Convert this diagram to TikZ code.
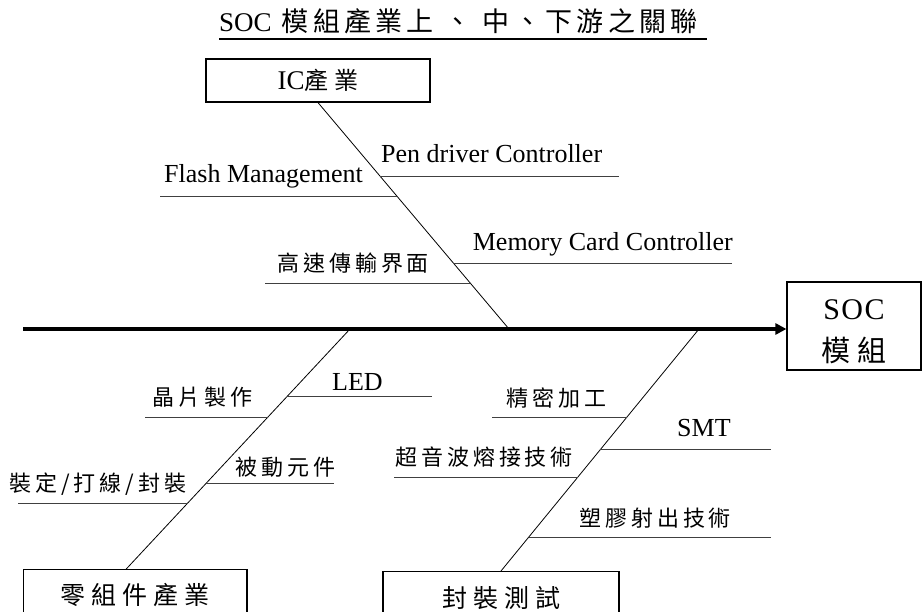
\documentclass[tikz,border=0pt]{standalone}
\usepackage{fontspec}
\setmainfont{Liberation Serif}
\newfontfamily\cjk[LetterSpace=18]{Noto Sans CJK TC}
\newfontfamily\cjkbox[LetterSpace=24]{Noto Sans CJK TC}
\newfontfamily\cjktitre[LetterSpace=16]{Noto Sans CJK TC}
\usepackage{tikz}
\usetikzlibrary{arrows.meta}
\tikzset{
Boite/.style={
 draw=black, 
 line width=1.2pt, 
 inner sep=0pt, 
 align=center
 },
Arete/.style={
 draw=black, 
 line width=0.8pt
 },
Epine/.style={
 draw=black, 
 line width=4.5pt, 
 -{Triangle[length=11pt,width=11pt]}
 },
Branche/.style={
 draw=black!75, 
 line width=1pt
 },
Latin/.style={
 anchor=base west, 
 inner sep=0pt, 
 font=\fontsize{26}{28}\selectfont
 },
Chinois/.style={
 anchor=base west, 
 inner sep=0pt, 
 font=\fontsize{22}{24}\selectfont\cjk
 }
}

\begin{document}
\begin{tikzpicture}[x=1pt,y=-1pt]
\useasboundingbox (0,0) rectangle (922,612);
% titre
\node[anchor=base west, inner sep=0pt, font=\fontsize{27}{30}\selectfont] (titre) at (219,32)
 {SOC\hspace{10pt}{\cjktitre\fontsize{27}{30}\selectfont 模組產業上\hspace{11pt}、\hspace{11pt}中、下游之關\hspace{4pt}聯}};
\draw[line width=2pt] ([yshift=-7pt]titre.base west) -- ++(488,0);
% boites
\node[Boite, minimum width=224pt, minimum height=43pt, font=\fontsize{27}{30}\selectfont] (ic) at (318,80.5)
 {IC{\cjkbox\fontsize{24}{28}\selectfont 產業}};
\node[Boite, minimum width=134pt, minimum height=88pt, font=\fontsize{30}{42}\selectfont] (soc) at (854,326)
 {\rule{0pt}{31.5pt}{\addfontfeature{LetterSpace=5}SOC}\\{\cjkbox\fontsize{29}{42}\selectfont 模組}};
\node[Boite, anchor=north, minimum width=223.5pt, minimum height=50pt, font=\fontsize{25}{28}\selectfont\cjkbox] (comp) at (135.25,569)
 {零組件產業};
\node[Boite, anchor=north, minimum width=236pt, minimum height=52pt, font=\fontsize{25}{28}\selectfont\cjkbox] (test) at (501,571)
 {封裝測試};
% epine
\coordinate (s0) at (23,329);
\coordinate (s1) at (509,329);
\coordinate (s2) at (350,329);
\coordinate (s3) at (699,329);
\draw[Epine] (s0) -- (s0 -| soc.west);
% aretes
\draw[Arete] (ic.south) -- (s1) coordinate[pos=.326] (a1) coordinate[pos=.414] (a2)
 coordinate[pos=.709] (a3) coordinate[pos=.797] (a4);
\draw[Arete] (s2) -- ([xshift=-9pt]comp.north) coordinate[pos=.283] (b1) coordinate[pos=.367] (b2)
 coordinate[pos=.642] (b3) coordinate[pos=.725] (b4);
\draw[Arete] (s3) -- (test.north) coordinate[pos=.364] (c1) coordinate[pos=.5] (c2)
 coordinate[pos=.612] (c3) coordinate[pos=.86] (c4);
% branches
\draw[Branche] (a1) -- ++(239,0);
\draw[Branche] (a2) -- ++(-237,0);
\draw[Branche] (a3) -- ++(279,0);
\draw[Branche] (a4) -- ++(-205,0);
\draw[Branche] (b1) -- ++(145,0);
\draw[Branche] (b2) -- ++(-123,0);
\draw[Branche] (b3) -- ++(128,0);
\draw[Branche] (b4) -- ++(-170,0);
\draw[Branche] (c1) -- ++(-135,0);
\draw[Branche] (c2) -- ++(171,0);
\draw[Branche] (c3) -- ++(-184,0);
\draw[Branche] (c4) -- ++(242,0);
% etiquettes
\node[Latin] (pen) at (381,163) {Pen driver Controller};
\node[Latin] (flash) at (164,183) {Flash Management};
\node[Latin, anchor=base east] (memoire) at (733,251) {Memory Card Controller};
\node[Chinois] (interface) at (277,272) {高速傳輸界面};
\node[Latin] (led) at (332,391) {LED};
\node[Chinois] (puce) at (152,406) {晶片製作};
\node[Chinois] (passif) at (235,476) {被動元件};
\node[Chinois] (boitier) at (9,492) {裝定/打線/封裝};
\node[Chinois] (precis) at (506,407) {精密加工};
\node[Latin] (smt) at (677,437) {SMT};
\node[Chinois] (ultra) at (395,466) {超音波熔接技術};
\node[Chinois] (plast) at (579,526) {塑膠射出技術};
\end{tikzpicture}
\end{document}
